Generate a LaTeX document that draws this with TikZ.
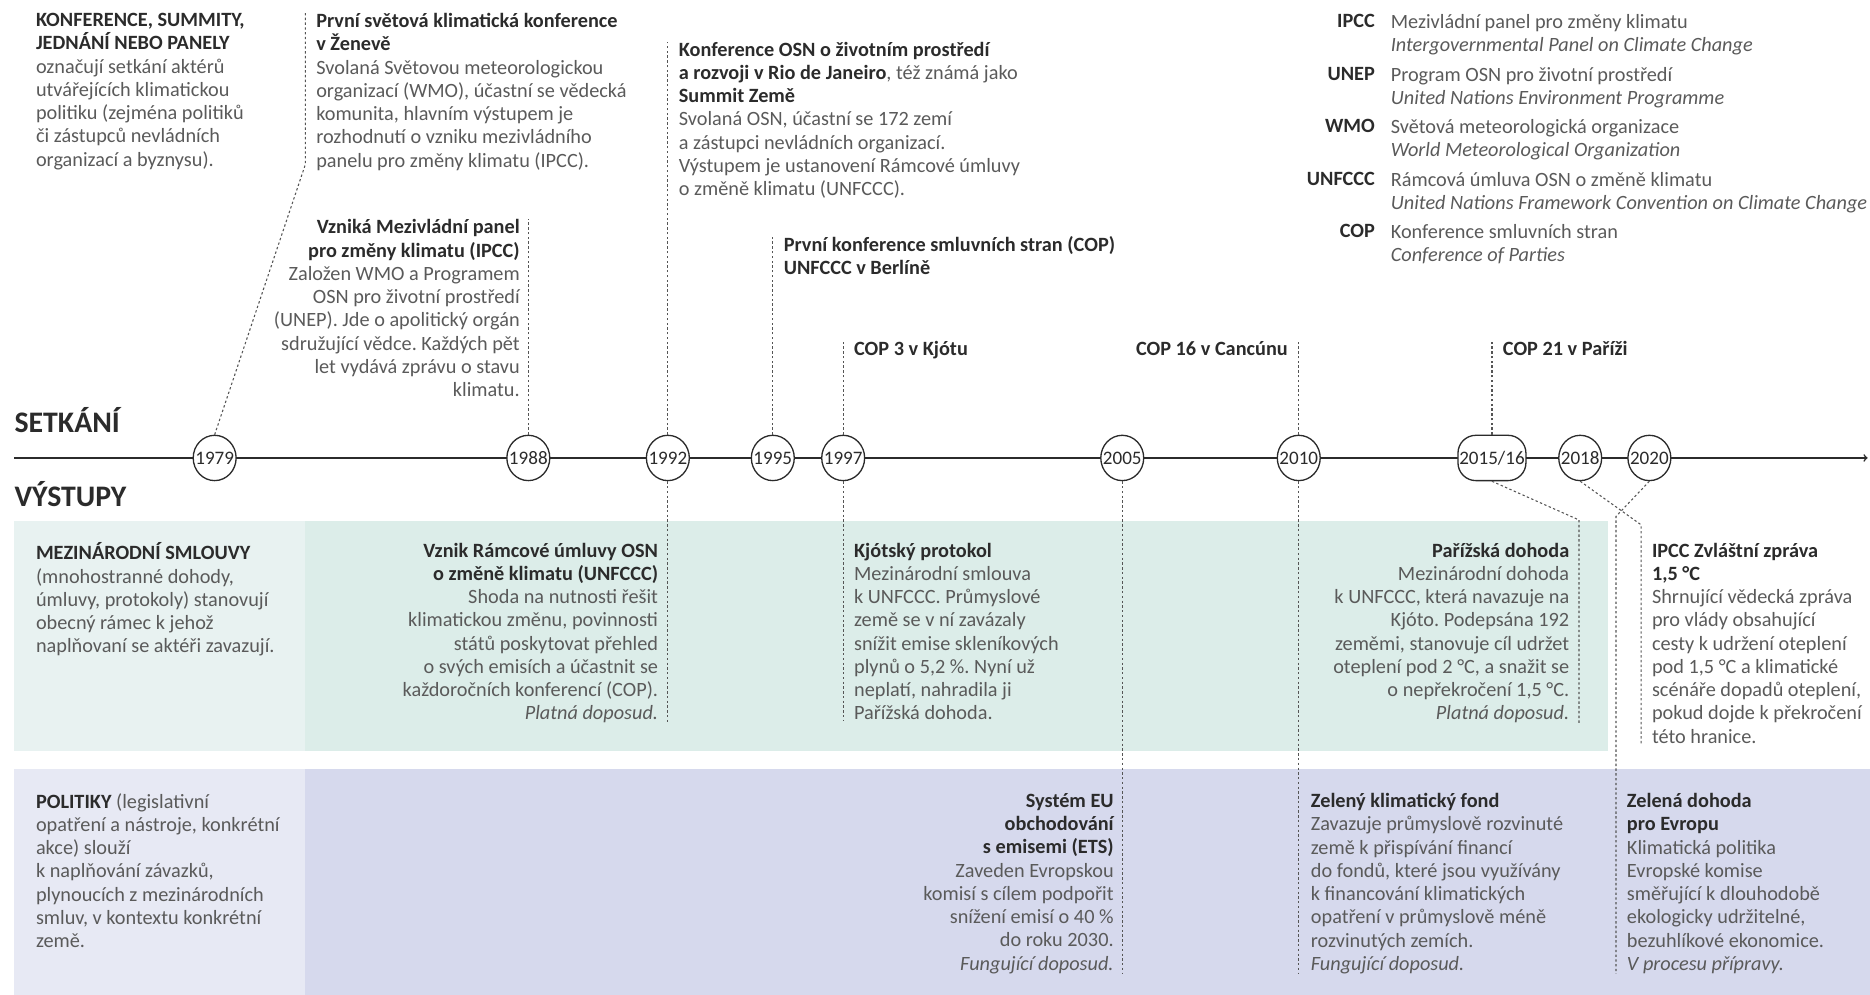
\documentclass[tikz,border=0pt]{standalone}
\usepackage{fontspec}
\setmainfont{Carlito}
\usetikzlibrary{shapes.geometric}
\definecolor{ink}{HTML}{2B2B2B}
\definecolor{bodygray}{HTML}{5A5A5A}
\definecolor{linkgray}{HTML}{555555}
\definecolor{smlL}{HTML}{E8F2F1}
\definecolor{smlR}{HTML}{DCEDE9}
\definecolor{polL}{HTML}{E7E9F4}
\definecolor{polR}{HTML}{D6D9ED}
\newcommand{\hd}[1]{{\bfseries\color{ink}#1}}
\frenchspacing
\tikzset{
  txt/.style={inner sep=0pt, yshift=-3pt, text=bodygray, font=\fontsize{17}{19.5}\selectfont},
  lft/.style={txt, anchor=north west, align=left},
  rgt/.style={txt, anchor=north east, align=right},
  yr/.style={ellipse, draw=ink, fill=white, line width=1.1pt, minimum width=36pt,
    minimum height=38pt, inner xsep=-4pt, inner ysep=0pt, text=ink,
    font=\fontsize{16}{16}\selectfont},
  link/.style={draw=linkgray, line width=0.9pt, dash pattern=on 2pt off 2pt},
  zone/.style={font=\fontsize{25}{25}\selectfont\bfseries, text=ink, anchor=west, inner sep=0pt}
}
\begin{document}
\begin{tikzpicture}[x=1pt, y=-1pt]
  \useasboundingbox (0,0) rectangle (1568,834);

  % pasy vystupu
  \fill[smlL] (12,437) rectangle (256,630);
  \fill[smlR] (256,437) rectangle (1348,630);
  \fill[polL] (12,645) rectangle (256,834);
  \fill[polR] (256,645) rectangle (1568,834);

  % osa
  \coordinate (axL) at (12,384);
  \coordinate (axR) at (1566,384);
  \draw[ink, line width=1.3pt, ->] (axL) -- (axR);
  \node[zone] (setkani) at (12,352) {SETKÁNÍ};
  \node[zone] (vystupy) at (12,414) {VÝSTUPY};

  \foreach \yr/\px in {1979/180, 1988/443, 1992/560, 1995/648, 1997/707,
    2005/941, 2010/1089, 2018/1325, 2020/1383}
    \node[yr] (y\yr) at (\px,384) {\yr};
  \node[yr, rectangle, rounded corners=15pt, minimum width=57pt, inner xsep=1pt]
    (y2015) at (1251,384) {2015/16};

  % zkratky
  \foreach \ab/\cz/\en [count=\i from 0] in {
    IPCC/Mezivládní panel pro změny klimatu/Intergovernmental Panel on Climate Change,
    UNEP/Program OSN pro životní prostředí/United Nations Environment Programme,
    WMO/Světová meteorologická organizace/World Meteorological Organization,
    UNFCCC/Rámcová úmluva OSN o změně klimatu/United Nations Framework Convention on Climate Change,
    COP/Konference smluvních stran/Conference of Parties}
  {
    \node[rgt] (zk\i) at (1153,{9+44*\i}) {\hd{\ab}};
    \node[lft] (vy\i) at (1166,{9+44*\i}) {\cz\\ \textit{\en}};
  }

  % setkani
  \node[lft] (t0) at (30,8) {\hd{KONFERENCE, SUMMITY,}\\ \hd{JEDNÁNÍ NEBO PANELY}\\
    označují setkání aktérů\\ utvářejících klimatickou\\ politiku (zejména politiků\\
    či zástupců nevládních\\ organizací a byznysu).};
  \node[lft] (t1979) at (265,8) {\hd{První světová klimatická konference}\\ \hd{v Ženevě}\\
    Svolaná Světovou meteorologickou\\ organizací (WMO), účastní se vědecká\\
    komunita, hlavním výstupem je\\ rozhodnutí o vzniku mezivládního\\
    panelu pro změny klimatu (IPCC).};
  \node[rgt] (t1988) at (436,181) {\hd{Vzniká Mezivládní panel}\\ \hd{pro změny klimatu (IPCC)}\\
    Založen WMO a Programem\\ OSN pro životní prostředí\\ (UNEP). Jde o apolitický orgán\\
    sdružující vědce. Každých pět\\ let vydává zprávu o stavu\\ klimatu.};
  \node[lft] (t1992) at (569,32) {\hd{Konference OSN o životním prostředí}\\
    \hd{a rozvoji v Rio de Janeiro}, též známá jako\\ \hd{Summit Země}\\
    Svolaná OSN, účastní se 172 zemí\\ a zástupci nevládních organizací.\\
    Výstupem je ustanovení Rámcové úmluvy\\ o změně klimatu (UNFCCC).};
  \node[lft] (t1995) at (657,195) {\hd{První konference smluvních stran (COP)}\\ \hd{UNFCCC v Berlíně}};
  \node[lft] (t1997) at (716,283) {\hd{COP 3 v Kjótu}};
  \node[rgt] (t2010) at (1080,283) {\hd{COP 16 v Cancúnu}};
  \node[lft] (t2015) at (1260,283) {\hd{COP 21 v Paříži}};

  % smlouvy
  \node[lft] (s0) at (30,452) {\hd{MEZINÁRODNÍ SMLOUVY}\\ (mnohostranné dohody,\\
    úmluvy, protokoly) stanovují\\ obecný rámec k jehož\\ naplňovaní se aktéři zavazují.};
  \node[rgt] (s1992) at (552,452) {\hd{Vznik Rámcové úmluvy OSN}\\ \hd{o změně klimatu (UNFCCC)}\\
    Shoda na nutnosti řešit\\ klimatickou změnu, povinnosti\\ států poskytovat přehled\\
    o svých emisích a účastnit se\\ každoročních konferencí (COP).\\ \textit{Platná doposud.}};
  \node[lft] (s1997) at (716,452) {\hd{Kjótský protokol}\\ Mezinárodní smlouva\\
    k UNFCCC. Průmyslové\\ země se v ní zavázaly\\ snížit emise skleníkových\\
    plynů o 5,2 \%. Nyní už\\ neplatí, nahradila ji\\ Pařížská dohoda.};
  \node[rgt] (s2015) at (1316,452) {\hd{Pařížská dohoda}\\ Mezinárodní dohoda\\
    k UNFCCC, která navazuje na\\ Kjóto. Podepsána 192\\ zeměmi, stanovuje cíl udržet\\
    oteplení pod 2 °C, a snažit se\\ o nepřekročení 1,5 °C.\\ \textit{Platná doposud.}};
  \node[lft] (s2018) at (1385,452) {\hd{IPCC Zvláštní zpráva}\\ \hd{1,5 °C}\\
    Shrnující vědecká zpráva\\ pro vlády obsahující\\ cesty k udržení oteplení\\
    pod 1,5 °C a klimatické\\ scénáře dopadů oteplení,\\ pokud dojde k překročení\\ této hranice.};

  % politiky
  \node[lft] (p0) at (30,662) {\hd{POLITIKY} (legislativní\\ opatření a nástroje, konkrétní\\
    akce) slouží\\ k naplňování závazků,\\ plynoucích z mezinárodních\\
    smluv, v kontextu konkrétní\\ země.};
  \node[rgt] (p2005) at (934,662) {\hd{Systém EU}\\ \hd{obchodování}\\ \hd{s emisemi (ETS)}\\
    Zaveden Evropskou\\ komisí s cílem podpořit\\ snížení emisí o 40 \%\\
    do roku 2030.\\ \textit{Fungující doposud.}};
  \node[lft] (p2010) at (1099,662) {\hd{Zelený klimatický fond}\\ Zavazuje průmyslově rozvinuté\\
    země k přispívání financí\\ do fondů, které jsou využívány\\ k financování klimatických\\
    opatření v průmyslově méně\\ rozvinutých zemích.\\ \textit{Fungující doposud.}};
  \node[lft] (p2020) at (1364,662) {\hd{Zelená dohoda}\\ \hd{pro Evropu}\\ Klimatická politika\\
    Evropské komise\\ směřující k dlouhodobě\\ ekologicky udržitelné,\\
    bezuhlíkové ekonomice.\\ \textit{V procesu přípravy.}};

  % spojnice nahoru
  \coordinate (b1979) at (256,138);
  \draw[link] (y1979.north) -- (b1979) -- (b1979 |- t1979.north);
  \foreach \yr/\t in {1988/t1988, 1992/t1992, 1995/t1995, 1997/t1997, 2010/t2010, 2015/t2015}
    \draw[link] (y\yr.north) -- (y\yr.north |- \t.north);

  % spojnice dolu
  \foreach \yr/\t in {1992/s1992, 1997/s1997, 2005/p2005, 2010/p2010}
    \draw[link] (y\yr.south) -- (y\yr.south |- \t.south);
  \coordinate (b2015) at (1324,436);
  \coordinate (b2018) at (1376,440);
  \coordinate (b2020) at (1355,433);
  \draw[link] (y2015.south) -- (b2015) -- (b2015 |- s2015.south);
  \draw[link] (y2018.south) -- (b2018) -- (b2018 |- s2018.south);
  \draw[link] (y2020.south) -- (b2020) -- (b2020 |- p2020.south);
\end{tikzpicture}
\end{document}
